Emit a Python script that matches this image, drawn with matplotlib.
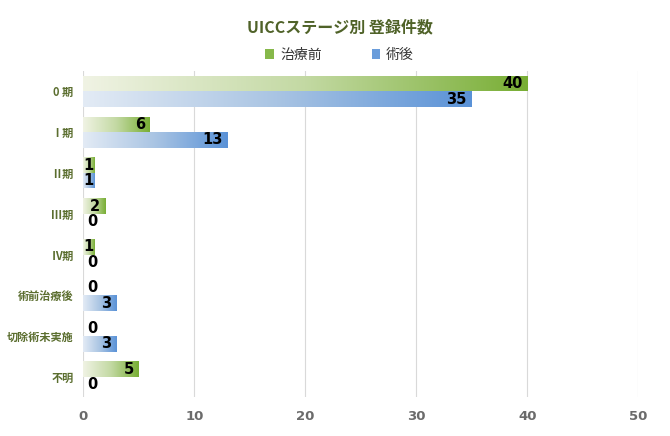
import numpy as np
import matplotlib
matplotlib.use('Agg')
import matplotlib.pyplot as plt
from matplotlib.colors import LinearSegmentedColormap
from matplotlib.patches import Patch

plt.rcParams['font.family'] = ['DejaVu Sans', 'Noto Sans CJK JP']

# data
categories = ['0 期', 'Ⅰ期', 'Ⅱ期', 'Ⅲ期', 'Ⅳ期', '術前治療後', '切除術未実施', '不明']
before_treatment = [40, 6, 1, 2, 1, 0, 0, 5]   # 治療前
after_surgery = [35, 13, 1, 0, 0, 3, 3, 0]      # 術後
series_names = ['治療前', '術後']

green_cmap = LinearSegmentedColormap.from_list('g', ['#f0f3e4', '#c3d9a3', '#78ae34'])
blue_cmap = LinearSegmentedColormap.from_list('b', ['#e3ebf5', '#a9c4e3', '#5a92d7'])

fig = plt.figure(figsize=(6.7, 4.36), dpi=100)
ax = fig.add_axes([0.1243, 0.089, 0.8284, 0.748])

y = np.arange(len(categories))
h = 0.38
bars_g = ax.barh(y - h / 2, before_treatment, height=h, color='none', edgecolor='none')
bars_b = ax.barh(y + h / 2, after_surgery, height=h, color='none', edgecolor='none')

grad = np.linspace(0, 1, 256).reshape(1, -1)
for bars, cmap in [(bars_g, green_cmap), (bars_b, blue_cmap)]:
    for b in bars:
        w = b.get_width()
        if w <= 0:
            continue
        x0, y0, bh = b.get_x(), b.get_y(), b.get_height()
        im = ax.imshow(grad, cmap=cmap, aspect='auto', extent=(x0, x0 + w, y0 + bh, y0),
                       interpolation='bilinear', zorder=2)
        im.set_clip_path(b)

# data labels
for bars in (bars_g, bars_b):
    for b in bars:
        w = b.get_width()
        yc = b.get_y() + b.get_height() / 2
        if w >= 2:
            ax.text(w - 0.45, yc, f'{int(w)}', ha='right', va='center',
                    fontsize=10.5, fontweight='bold', color='black', zorder=3)
        elif w >= 1:
            ax.text(w - 0.1, yc, f'{int(w)}', ha='right', va='center',
                    fontsize=10.5, fontweight='bold', color='black', zorder=3)
        else:
            ax.text(0.35, yc, f'{int(w)}', ha='left', va='center',
                    fontsize=10.5, fontweight='bold', color='black', zorder=3)

ax.set_xlim(0, 50)
ax.set_ylim(len(categories) - 0.5, -0.5)
ax.set_xticks([0, 10, 20, 30, 40, 50])
ax.set_yticks(y)
ax.set_yticklabels(categories, fontsize=8, fontweight='bold', color='#5b6e2f',
                   family=['Noto Sans CJK JP', 'DejaVu Sans'])
for lab in ax.get_xticklabels():
    lab.set_fontsize(9.5)
    lab.set_fontweight('bold')
    lab.set_color('#6b6b6b')

ax.grid(axis='x', color='#d9d9d9', linewidth=0.8, zorder=0)
ax.set_axisbelow(True)
for s in ax.spines.values():
    s.set_visible(False)
ax.tick_params(axis='both', length=0)
ax.tick_params(axis='x', pad=9)
ax.tick_params(axis='y', pad=7)

fig.text(0.508, 0.938, 'UICCステージ別 登録件数', ha='center', va='center',
         fontsize=11.5, fontweight='bold', color='#4f6228',
         family=['Noto Sans CJK JP', 'DejaVu Sans'])

handles = [Patch(facecolor='#86b84a', edgecolor='none'), Patch(facecolor='#6a9ddb', edgecolor='none')]
leg = fig.legend(handles, series_names, loc='center', bbox_to_anchor=(0.507, 0.875), ncol=2,
                 frameon=False, handlelength=0.6, handleheight=0.75, handletextpad=0.45,
                 columnspacing=3.6, prop={'family': ['Noto Sans CJK JP', 'DejaVu Sans'], 'size': 10})
for t in leg.get_texts():
    t.set_color('#333333')

fig.savefig('out.png', dpi=100)
